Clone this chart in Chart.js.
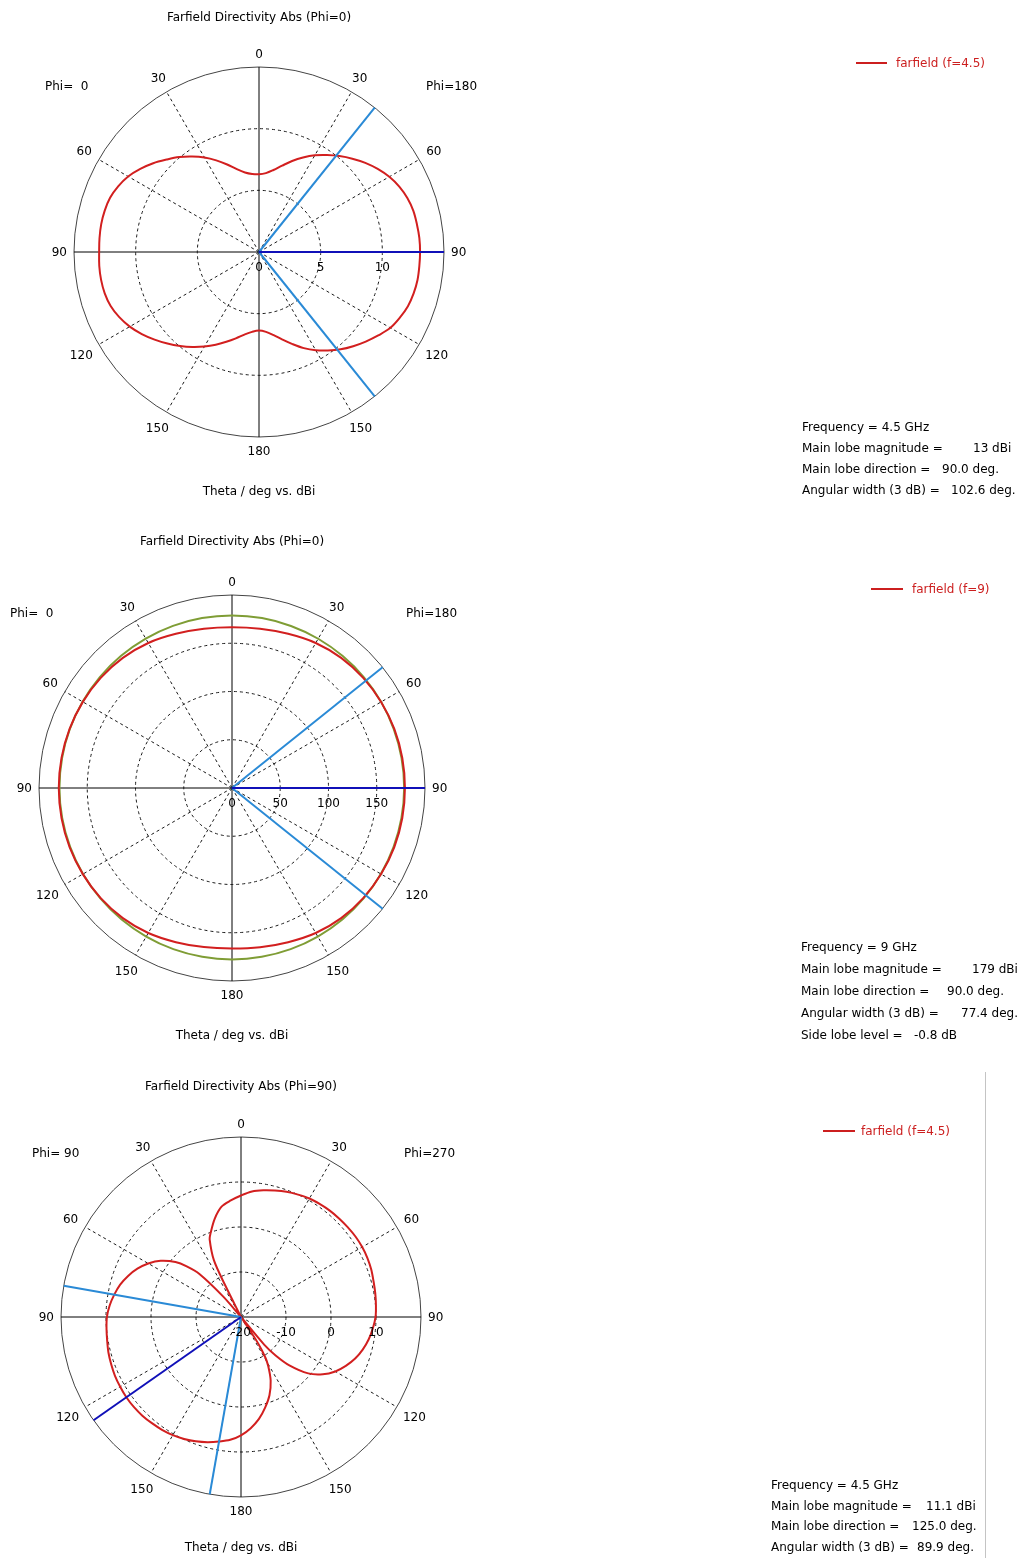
<!DOCTYPE html>
<html><head><meta charset="utf-8">
<script src="https://cdn.jsdelivr.net/npm/chart.js@4.4.1/dist/chart.umd.min.js"></script>
<style>
html,body{margin:0;padding:0;background:#fff;}
body{width:1025px;height:1558px;position:relative;overflow:hidden;font-family:"DejaVu Sans",Verdana,sans-serif;font-size:12px;color:#000;}
.t{position:absolute;white-space:pre;line-height:1;transform:translateY(-50%);}
.c{transform:translate(-50%,-50%);}
.red{color:#cc1f1f;}
.lg{position:absolute;height:0;border-top:2px solid #cc1f1f;}
canvas{position:absolute;left:0;}
</style></head><body>
<canvas id="c1" width="1025" height="520" style="top:0px;width:1025px;height:520px"></canvas>
<canvas id="c2" width="1025" height="540" style="top:520px;width:1025px;height:540px"></canvas>
<canvas id="c3" width="1025" height="498" style="top:1060px;width:1025px;height:498px"></canvas>

<!-- plot 1 texts -->
<div class="t c" style="left:259px;top:17px">Farfield Directivity Abs (Phi=0)</div>
<div class="t" style="left:45px;top:86px">Phi=  0</div>
<div class="t" style="left:426px;top:86px">Phi=180</div>
<div class="t c" style="left:259px;top:491px">Theta / deg vs. dBi</div>
<div class="lg" style="left:856px;top:62px;width:31px"></div>
<div class="t red" style="left:896px;top:63px">farfield (f=4.5)</div>
<div class="t" style="left:802px;top:427px">Frequency = 4.5 GHz</div>
<div class="t" style="left:802px;top:448px">Main lobe magnitude =</div><div class="t" style="left:973px;top:448px">13 dBi</div>
<div class="t" style="left:802px;top:469px">Main lobe direction =</div><div class="t" style="left:942px;top:469px">90.0 deg.</div>
<div class="t" style="left:802px;top:490px">Angular width (3 dB) =</div><div class="t" style="left:951px;top:490px">102.6 deg.</div>

<!-- plot 2 texts -->
<div class="t c" style="left:232px;top:541px">Farfield Directivity Abs (Phi=0)</div>
<div class="t" style="left:10px;top:613px">Phi=  0</div>
<div class="t" style="left:406px;top:613px">Phi=180</div>
<div class="t c" style="left:232px;top:1035px">Theta / deg vs. dBi</div>
<div class="lg" style="left:871px;top:588px;width:32px"></div>
<div class="t red" style="left:912px;top:589px">farfield (f=9)</div>
<div class="t" style="left:801px;top:947px">Frequency = 9 GHz</div>
<div class="t" style="left:801px;top:969px">Main lobe magnitude =</div><div class="t" style="left:972px;top:969px">179 dBi</div>
<div class="t" style="left:801px;top:991px">Main lobe direction =</div><div class="t" style="left:947px;top:991px">90.0 deg.</div>
<div class="t" style="left:801px;top:1013px">Angular width (3 dB) =</div><div class="t" style="left:961px;top:1013px">77.4 deg.</div>
<div class="t" style="left:801px;top:1035px">Side lobe level =</div><div class="t" style="left:914px;top:1035px">-0.8 dB</div>

<!-- plot 3 texts -->
<div class="t c" style="left:241px;top:1086px">Farfield Directivity Abs (Phi=90)</div>
<div class="t" style="left:32px;top:1153px">Phi= 90</div>
<div class="t" style="left:404px;top:1153px">Phi=270</div>
<div class="t c" style="left:241px;top:1547px">Theta / deg vs. dBi</div>
<div class="lg" style="left:823px;top:1130px;width:32px"></div>
<div class="t red" style="left:861px;top:1131px">farfield (f=4.5)</div>
<div style="position:absolute;left:985px;top:1072px;width:1px;height:486px;background:#c4c4c4"></div>
<div class="t" style="left:771px;top:1485px">Frequency = 4.5 GHz</div>
<div class="t" style="left:771px;top:1506px">Main lobe magnitude =</div><div class="t" style="left:926px;top:1506px">11.1 dBi</div>
<div class="t" style="left:771px;top:1526px">Main lobe direction =</div><div class="t" style="left:912px;top:1526px">125.0 deg.</div>
<div class="t" style="left:771px;top:1547px">Angular width (3 dB) =</div><div class="t" style="left:917px;top:1547px">89.9 deg.</div>

<script>
// ---------- DATA (display angle = degrees clockwise from top; right half = theta 0..180 on Phi=180/270 side) ----------
// Plot 1: Farfield Directivity Abs (Phi=0), f = 4.5 GHz, dBi
const p1Angles = [0,5,10,15,20,25,30,35,40,45,50,55,60,65,70,75,80,85,90,95,100,105,110,115,120,125,130,135,140,145,150,155,160,165,170,175,
                  180,185,190,195,200,205,210,215,220,225,230,235,240,245,250,255,260,265,270,275,280,285,290,295,300,305,310,315,320,325,330,335,340,345,350,355];
const p1Values = [6.3,6.42,6.75,7.25,7.85,8.45,9.05,9.6,10.15,10.7,11.25,11.75,12.2,12.55,12.8,12.95,13.0,13.05,13.06,13.05,13.05,12.98,12.85,12.6,12.3,11.8,11.3,10.8,10.3,9.75,9.2,8.6,7.95,7.35,6.85,6.5,
                  6.37,6.5,6.8,7.25,7.75,8.3,8.85,9.4,9.95,10.5,11.05,11.6,12.1,12.5,12.8,12.95,13.0,13.0,12.96,12.98,12.99,12.95,12.85,12.6,12.25,11.75,11.2,10.6,10.05,9.45,8.85,8.2,7.55,6.95,6.55,6.35];
const p1BeamEdges = [38.7, 141.3];   // 3 dB angular-width limits
const p1MainDir = [90];
const p1Range = [0, 15, 5];          // min, max, step (dBi)

// Plot 2: Farfield Directivity Abs (Phi=0), f = 9 GHz
const p2Angles = [0,10,20,30,40,50,60,70,80,90,100,110,120,130,140,150,160,170,180,190,200,210,220,230,240,250,260,270,280,290,300,310,320,330,340,350];
const p2Values = [166.5,167.5,170.0,173.5,176.0,177.5,178.4,179.0,179.2,179.2,179.2,179.0,178.4,177.5,176.0,173.5,170.0,167.5,
                  166.3,167.4,170.0,173.5,176.0,177.6,178.5,179.1,179.4,179.5,179.4,179.1,178.5,177.6,176.0,173.5,170.0,167.5];
const p2Reference = [178.8,178.8,178.7,178.6,178.5,178.5,178.5,178.4,178.4,178.4,178.3,178.2,178.1,178.0,177.9,177.8,177.7,177.6,
                     177.6,177.6,177.7,177.8,177.9,178.1,178.3,178.5,178.7,178.8,178.8,178.8,178.8,178.8,178.8,178.8,178.8,178.8];
const p2BeamEdges = [51.3, 128.7];
const p2MainDir = [90];
const p2Range = [0, 200, 50];

// Plot 3: Farfield Directivity Abs (Phi=90), f = 4.5 GHz
const p3Angles = [0,5,10,15,20,25,30,35,40,45,50,55,60,65,70,75,80,85,90,95,100,105,110,115,120,125,130,135,138,140,142,145,147,149,151,155,160,165,170,175,
                  180,185,190,195,200,205,210,215,220,225,230,235,240,245,250,255,260,265,270,275,280,285,290,295,300,305,310,313,316,319,321,332,333.5,334.5,338,340,345,350,355];
const p3Values = [7.0,8.0,8.6,9.1,9.6,10.0,10.4,10.6,10.8,10.9,11.0,11.1,11.1,11.0,10.8,10.5,10.3,10.1,9.9,9.4,8.8,8.0,7.0,5.7,4.2,2.2,-0.5,-4.8,-8.5,-12,-20,-20,-13,-9.5,-7.5,-4.4,-1.5,0.8,3.0,4.8,
                  6.3,7.4,8.1,8.8,9.4,9.9,10.3,10.6,10.8,11.0,11.1,11.1,11.0,10.9,10.7,10.5,10.2,10.0,9.8,9.3,8.6,7.8,6.7,5.4,3.8,1.8,-1.0,-3.5,-6.7,-14,-20,-20,-12,-6,-1.4,-0.2,2.6,4.9,6.0];
const p3BeamEdges = [280.0, 190.0];
const p3MainDir = [235.0];
const p3Range = [-20, 20, 10];

const angleTickText = ['0','30','60','90','120','150','180','150','120','90','60','30'];

// ---------- helpers ----------
const RES = 10, N = 360 * RES;
const labels = Array.from({length: N}, (_, i) => i / RES);
const idx = a => Math.round(a * RES) % N;
function curve(angles, values) { const d = new Array(N).fill(null); angles.forEach((a, i) => { d[idx(a)] = values[i]; }); return d; }
function ray(angle, lo, hi) { const d = new Array(N).fill(null); const k = idx(angle); d[(k - 1 + N) % N] = lo; d[k] = hi; return d; }

const RED = '#d21f1f', LBLUE = '#2a8ad6', DBLUE = '#1010b8', GREEN = '#7f9d35';
const FONT = '12px "DejaVu Sans", Verdana, sans-serif';

const labelPlugin = {
  id: 'polarLabels',
  afterDraw(chart) {
    const s = chart.scales.r, ctx = chart.ctx;
    ctx.save();
    ctx.font = FONT;
    ctx.fillStyle = '#000';
    ctx.textAlign = 'center'; ctx.textBaseline = 'middle';
    const R = s.drawingArea, gap = 7, h = 13;
    angleTickText.forEach((t, i) => {
      const a = i * 30, rad = a * Math.PI / 180;
      const w = ctx.measureText(t).width;
      const d = R + gap + Math.abs(Math.sin(rad)) * w / 2 + Math.abs(Math.cos(rad)) * h / 2;
      const p = s.getPointPosition(idx(a), d);
      ctx.fillText(t, p.x, p.y + 1);
    });
    s.ticks.forEach(tk => {
      if (tk.value >= s.max) return;
      const p = s.getPointPosition(idx(90), s.getDistanceFromCenterForValue(tk.value));
      ctx.fillText(String(tk.value), p.x, s.yCenter + 16);
    });
    ctx.restore();
  }
};

function makeChart(id, pad, range, datasets) {
  const [mn, mx, st] = range;
  return new Chart(document.getElementById(id), {
    type: 'radar',
    data: { labels, datasets },
    options: {
      responsive: false, animation: false, events: [],
      layout: { padding: pad },
      plugins: { legend: { display: false }, tooltip: { enabled: false } },
      elements: { point: { radius: 0, hoverRadius: 0 } },
      scales: { r: {
        min: mn, max: mx, startAngle: 0,
        ticks: { display: false, stepSize: st },
        pointLabels: { display: false },
        grid: { circular: true, lineWidth: 1,
          color: c => (c.tick && c.tick.value >= mx) ? '#444' : '#1a1a1a' },
        border: { dash: c => (c.tick && c.tick.value >= mx) ? [] : [3, 3] },
        angleLines: { display: true,
          lineWidth: c => (c.index % 300 === 0) ? 1 : 0,
          color: c => (c.index % 900 === 0) ? '#000' : '#1a1a1a',
          borderDash: c => (c.index % 900 === 0) ? [] : [3, 3] }
      } }
    },
    plugins: [labelPlugin]
  });
}

function rays(edges, main, lo, hi) {
  const out = [];
  main.forEach(a => out.push({ data: ray(a, lo, hi), borderColor: DBLUE, borderWidth: 2, fill: false, spanGaps: false, tension: 0 }));
  edges.forEach(a => out.push({ data: ray(a, lo, hi), borderColor: LBLUE, borderWidth: 2, fill: false, spanGaps: false, tension: 0 }));
  return out;
}
const curveDs = (data, color, tension) => ({ data, borderColor: color, borderWidth: 2, fill: false, spanGaps: true, tension });

makeChart('c1', { left: 74, right: 581, top: 67, bottom: 83 }, p1Range, [
  ...rays(p1BeamEdges, p1MainDir, p1Range[0], p1Range[1]),
  curveDs(curve(p1Angles, p1Values), RED, 0.35)
]);
makeChart('c2', { left: 39, right: 600, top: 75, bottom: 79 }, p2Range, [
  ...rays(p2BeamEdges, p2MainDir, p2Range[0], p2Range[1]),
  curveDs(curve(p2Angles, p2Values), RED, 0.35),
  curveDs(curve(p2Angles, p2Reference), GREEN, 0.35)
]);
makeChart('c3', { left: 61, right: 604, top: 77, bottom: 61 }, p3Range, [
  ...rays(p3BeamEdges, p3MainDir, p3Range[0], p3Range[1]),
  curveDs(curve(p3Angles, p3Values), RED, 0.3)
]);
</script>
</body></html>
